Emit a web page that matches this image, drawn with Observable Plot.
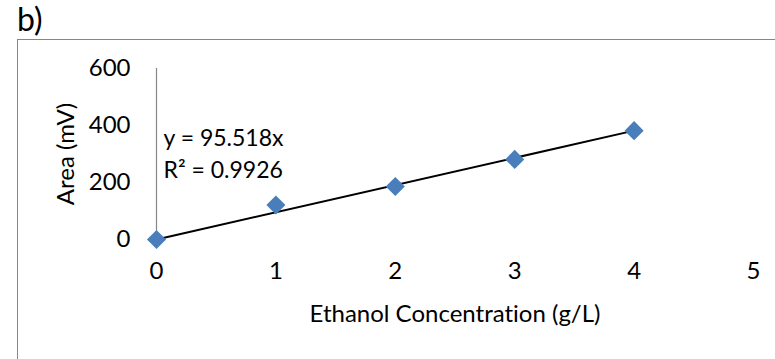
<!DOCTYPE html>
<html>
<head>
<meta charset="utf-8">
<script src="https://cdn.jsdelivr.net/npm/d3@7"></script>
<script src="https://cdn.jsdelivr.net/npm/@observablehq/plot@0.6"></script>
<style>
  html, body { margin: 0; padding: 0; background: #fff; }
  #wrap { position: relative; width: 775px; height: 359px; overflow: hidden; font-family: Lato, "Open Sans", sans-serif; font-variant-ligatures: none; }
  #tag { position: absolute; left: 17px; top: 3px; font-size: 32px; color: #000; line-height: 1; }
  #frame { position: absolute; left: 17px; top: 39px; width: 900px; height: 500px; border: 1px solid #868686; box-sizing: border-box; }
  #chart { position: absolute; left: 0; top: 0; }
  #chart svg text { font-variant-ligatures: none; }
</style>
</head>
<body>
<div id="wrap">
  <div id="tag">b)</div>
  <div id="frame"></div>
  <div id="chart"></div>
</div>
<script>
const concentration = [0, 1, 2, 3, 4];
const area = [0, 121, 186, 281, 382];
const xTicks = [0, 1, 2, 3, 4, 5];
const yTicks = [0, 200, 400, 600];
const slope = 95.518;
const r2 = 0.9926;
const xLabel = "Ethanol Concentration (g/L)";
const yLabel = "Area (mV)";

const points = concentration.map((c, i) => ({c, a: area[i]}));
const fitEnds = [0, 4].map(c => ({c, a: slope * c}));
const eqText = `y = ${slope}x\nR\u00B2 = ${r2}`;

const font = "Lato, 'Open Sans', sans-serif";
const plot = Plot.plot({
  width: 775,
  height: 359,
  marginLeft: 156,
  marginRight: 22,
  marginTop: 68,
  marginBottom: 120,
  style: {fontFamily: font, fontSize: "24px", color: "#000", background: "transparent", overflow: "visible"},
  x: {domain: [0, 5]},
  y: {domain: [0, 600]},
  marks: [
    Plot.ruleX([0], {y1: 0, y2: 600, stroke: "#868686", strokeWidth: 1.2}),
    Plot.axisY({ticks: yTicks, tickSize: 0, tickPadding: 26, label: yLabel, labelAnchor: "center", labelArrow: "none", labelOffset: 100, fontSize: 24}),
    Plot.axisX({ticks: xTicks, tickSize: 0, tickPadding: 22, tickFormat: d3.format("d"), label: xLabel, labelAnchor: "center", labelArrow: "none", labelOffset: 82, fontSize: 24}),
    Plot.line(fitEnds, {x: "c", y: "a", stroke: "#000", strokeWidth: 2}),
    Plot.dot(points, {x: "c", y: "a", symbol: "diamond2", r: 8.6, fill: "#4a7ebb", stroke: "none"}),
    Plot.text([eqText], {frameAnchor: "top-left", textAnchor: "start", lineAnchor: "top", dx: 7, dy: 54, lineHeight: 1.42, fontSize: 23, fill: "#000"})
  ]
});
document.getElementById("chart").appendChild(plot);
</script>
</body>
</html>
